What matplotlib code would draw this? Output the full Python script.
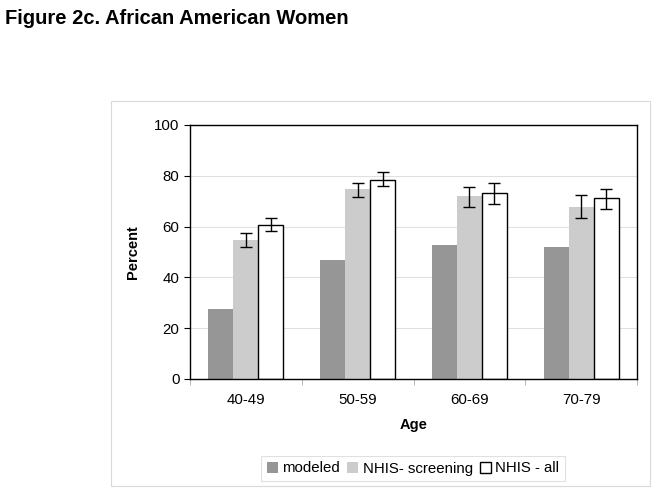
import numpy as np
import matplotlib
matplotlib.use('Agg')
import matplotlib.pyplot as plt
from matplotlib.patches import Rectangle

plt.rcParams['font.family'] = ['Liberation Sans', 'DejaVu Sans']

ages = ['40-49', '50-59', '60-69', '70-79']
modeled = [27.6, 46.7, 52.8, 52.0]
screening = [54.7, 74.8, 72.0, 67.7]
screening_lo = [51.8, 71.8, 67.6, 63.3]
screening_hi = [57.4, 77.2, 75.6, 72.3]
nhis_all = [60.6, 78.3, 73.4, 71.4]
all_lo = [58.1, 76.0, 68.9, 67.0]
all_hi = [63.5, 81.4, 77.0, 74.9]

fig = plt.figure(figsize=(6.55, 4.93), dpi=100)
fig.text(0.008, 0.962, 'Figure 2c. African American Women', fontsize=14.5,
         fontweight='bold', va='center', ha='left')

# outer chart frame
fig.patches.append(Rectangle((111 / 655, 1 - 486 / 493), 539 / 655, 385 / 493,
                             transform=fig.transFigure, fill=False,
                             edgecolor='#d9d9d9', linewidth=0.8))

ax = fig.add_axes([190 / 655, 1 - 379 / 493, 447 / 655, 254 / 493])
x = np.arange(len(ages))
w = 0.224
err_s = [np.array(screening) - np.array(screening_lo), np.array(screening_hi) - np.array(screening)]
err_a = [np.array(nhis_all) - np.array(all_lo), np.array(all_hi) - np.array(nhis_all)]

ax.bar(x - w, modeled, w, color='#969696', label='modeled', zorder=2)
ax.bar(x, screening, w, color='#cccccc', label='NHIS- screening', zorder=2)
ax.bar(x + w, nhis_all, w, color='white', edgecolor='black', linewidth=1.0,
       label='NHIS - all', zorder=2)
ax.errorbar(x, screening, yerr=err_s, fmt='none', ecolor='black', elinewidth=1.0,
            capsize=4, capthick=1.0, zorder=3)
ax.errorbar(x + w, nhis_all, yerr=err_a, fmt='none', ecolor='black', elinewidth=1.0,
            capsize=4, capthick=1.0, zorder=3)

ax.set_xlim(-0.5, 3.5)
ax.set_ylim(0, 100)
ax.set_yticks([0, 20, 40, 60, 80, 100])
ax.set_xticks(x)
ax.set_xticklabels(ages, fontsize=10.8)
ax.set_xticks(np.arange(-0.5, 4, 1), minor=True)
ax.tick_params(axis='x', which='major', length=0, pad=10)
ax.tick_params(axis='x', which='minor', length=4, color='#aaaaaa')
ax.tick_params(axis='y', labelsize=10.8, length=4, direction='out')
ax.yaxis.grid(True, color='#e0e0e0', linewidth=0.8, zorder=0)
ax.set_axisbelow(True)
for s in ax.spines.values():
    s.set_linewidth(1.0)
ax.set_ylabel('Percent', fontsize=10.5, fontweight='bold', labelpad=10)
ax.set_xlabel('Age', fontsize=10.5, fontweight='bold', labelpad=8)

leg = ax.legend(loc='center', bbox_to_anchor=(413 / 655, 1 - 468.5 / 493),
                bbox_transform=fig.transFigure, ncol=3, fontsize=10.8,
                frameon=True, fancybox=False, edgecolor='#d9d9d9',
                handlelength=0.75, handleheight=0.75, handletextpad=0.3,
                columnspacing=0.45, borderpad=0.35)
leg.get_frame().set_linewidth(0.8)

fig.savefig('out.png', dpi=100)
